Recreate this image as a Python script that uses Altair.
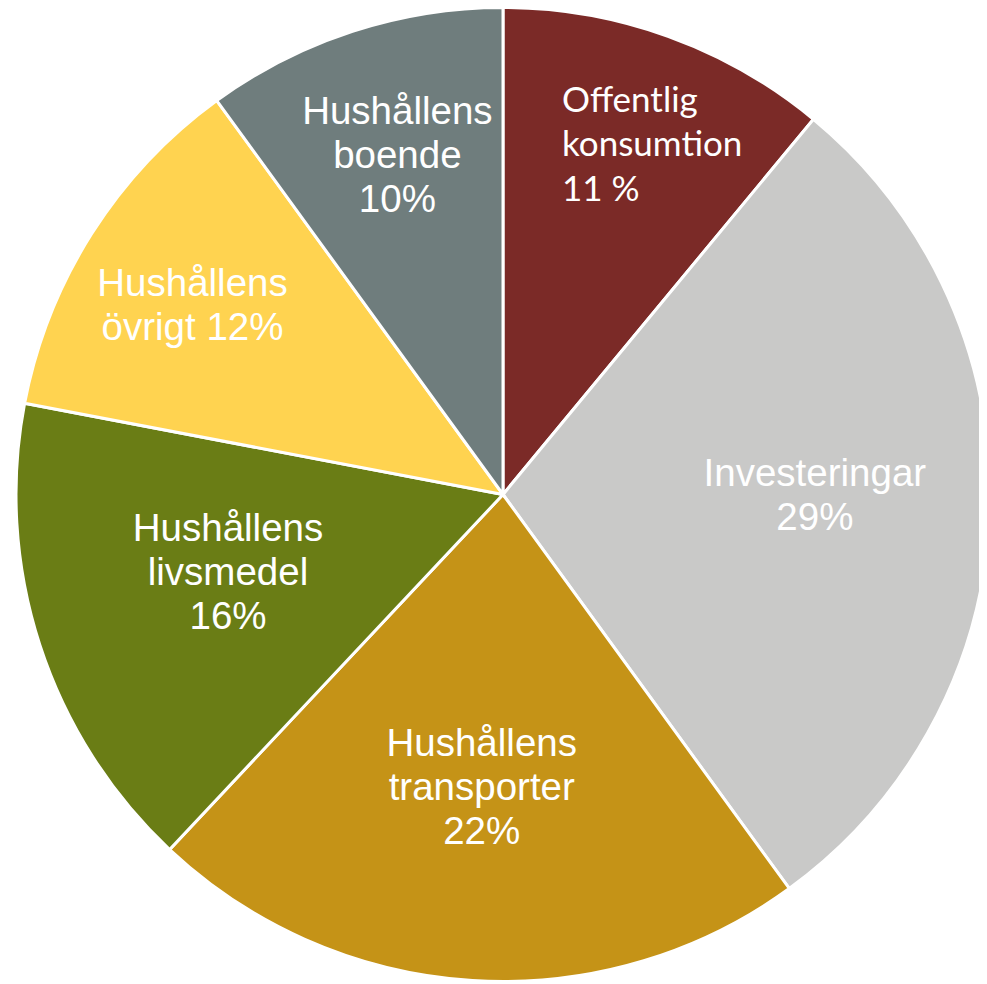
import altair as alt
import pandas as pd

# ---- data ----
categories = [
    "Offentlig konsumtion",
    "Investeringar",
    "Hushållens transporter",
    "Hushållens livsmedel",
    "Hushållens övrigt",
    "Hushållens boende",
]
shares = [11, 29, 22, 16, 12, 10]
labels = [
    "Offentlig\nkonsumtion\n11 %",
    "Investeringar\n29%",
    "Hushållens\ntransporter\n22%",
    "Hushållens\nlivsmedel\n16%",
    "Hushållens\növrigt 12%",
    "Hushållens\nboende\n10%",
]
colors = ["#7B2A27", "#C9C9C8", "#C59317", "#6A7D15", "#FFD350", "#6F7D7D"]

# ---- layout: label distance from centre and small nudges (px) ----
label_layout = {
    "Offentlig konsumtion": (372, -67, 1),
    "Investeringar": (309, 3, -8),
    "Hushållens transporter": (291, -3, 3),
    "Hushållens livsmedel": (286, -3, -10),
    "Hushållens övrigt": (363, -4, 6),
    "Hushållens boende": (358, 5, 2),
}

df = pd.DataFrame({
    "category": categories,
    "share": shares,
    "label": labels,
    "order": list(range(len(categories))),
})
df["label_r"] = [label_layout[c][0] for c in categories]
df["n_lines"] = [lab.count("\n") + 1 for lab in labels]

R = 487
LH = 44

arcs = alt.Chart(df).mark_arc(stroke="white", strokeWidth=3).encode(
    theta=alt.Theta("share:Q", stack=True),
    order=alt.Order("order:Q"),
    radius=alt.value(R),
    color=alt.Color("category:N", scale=alt.Scale(domain=categories, range=colors), legend=None),
)

# label angles: middle of each slice, computed from cumulative shares (radians, 0 = north)
text_base = (
    alt.Chart(df)
    .transform_joinaggregate(total="sum(share)")
    .transform_window(cum="sum(share)", sort=[alt.SortField("order")], frame=[None, 0])
    .transform_calculate(mid="2*PI*(datum.cum - datum.share/2)/datum.total")
    .encode(
        theta=alt.Theta("mid:Q", scale=None),
        radius=alt.Radius("label_r:Q", scale=None),
        text="label:N",
    )
)

layers = [arcs]
for cat, lab in zip(categories, labels):
    _, ndx, ndy = label_layout[cat]
    n = lab.count("\n") + 1
    if cat == "Offentlig konsumtion":
        style = dict(font="Lato", fontSize=35, lineHeight=44.5, align="left")
        lh = 44.5
    else:
        style = dict(font="Liberation Sans", fontSize=38.5, lineHeight=LH, align="center")
        lh = LH
    layers.append(
        text_base.mark_text(
            color="white", baseline="middle", lineBreak="\n",
            dx=ndx, dy=-(n - 1) * lh / 2 + ndy, **style,
        ).transform_filter(alt.datum.category == cat)
    )

chart = alt.layer(*layers).resolve_scale(
    theta="independent", radius="independent"
).properties(
    width=952, height=953,
    autosize=alt.AutoSizeParams(type="none"),
    padding={"left": 19, "top": 10, "right": 0, "bottom": 13},
).configure_view(stroke=None)

chart.save("out.html", embed_options={"renderer": "svg", "actions": False})
